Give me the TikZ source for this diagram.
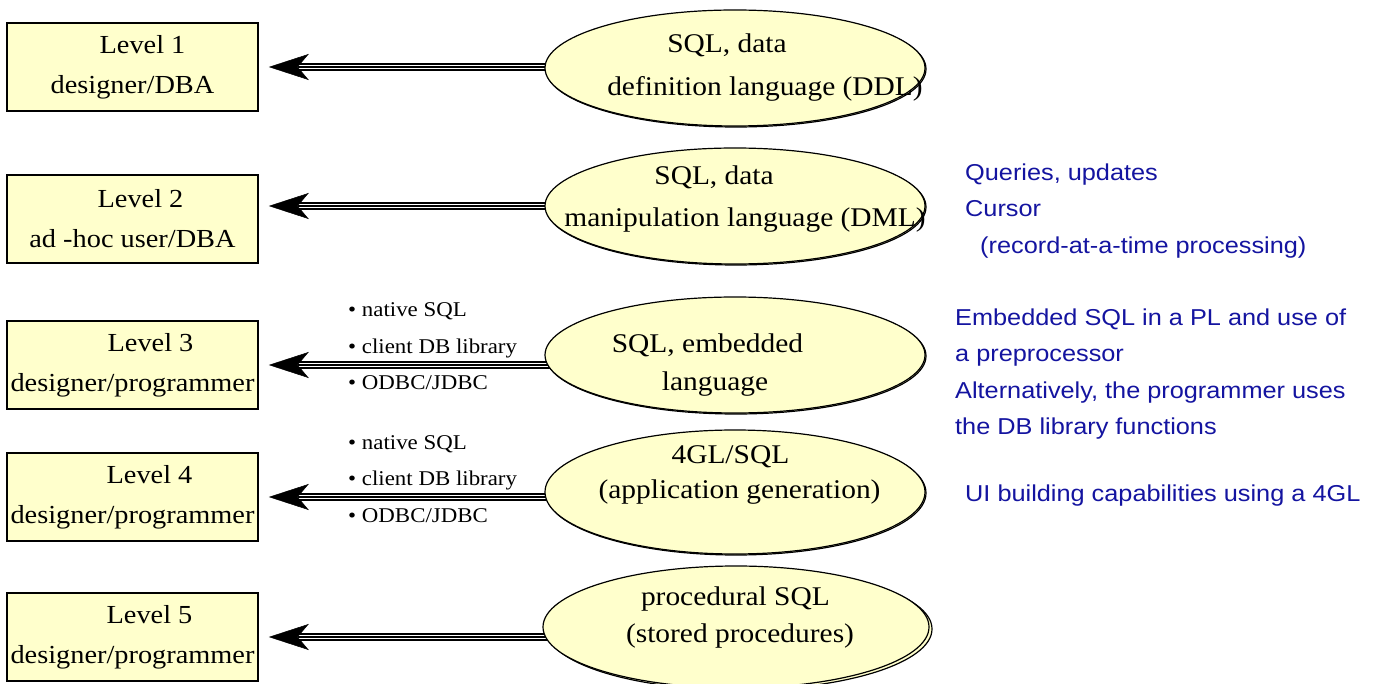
\documentclass[tikz,border=0pt]{standalone}
\usepackage{fontspec}
\setmainfont{Liberation Serif}[FakeStretch=1.09]
\newfontfamily\notefont{Liberation Sans}[FakeStretch=1.1]
\usepackage{xcolor}
\usetikzlibrary{shapes.geometric,arrows.meta,shadows,backgrounds}
\definecolor{paleyellow}{RGB}{255,255,204}
\definecolor{noteblue}{RGB}{20,20,160}
\tikzstyle{level} = [draw, line width=1.5pt, fill=paleyellow, minimum width=251pt, minimum height=88pt, inner sep=0pt, align=center, font=\fontsize{26}{40}\selectfont]
\tikzstyle{lang} = [draw, ellipse, line width=1.2pt, fill=paleyellow, minimum width=380pt, minimum height=116pt, inner sep=0pt, copy shadow={shadow xshift=1pt, shadow yshift=-1pt}]
\tikzstyle{deeplang} = [draw, ellipse, line width=1.2pt, fill=paleyellow, minimum width=386pt, minimum height=122pt, inner sep=0pt, copy shadow={shadow xshift=3pt, shadow yshift=-2pt}]
\tikzstyle{langtext} = [align=left, inner sep=0pt, font=\fontsize{27}{38}\selectfont]
\tikzstyle{bullets} = [align=left, anchor=west, inner sep=0pt, font=\fontsize{21}{36.5}\selectfont]
\tikzstyle{note} = [align=left, anchor=west, inner sep=0pt, text=noteblue, font=\notefont\fontsize{23}{36.5}\selectfont]
\tikzstyle{fatarrow} = [line width=1.6pt, -{Stealth[length=40pt, width=26pt, inset=11pt, line width=0.5pt]}, shorten >=10pt, shorten <=-6pt, preaction={draw, -, line width=8pt, shorten >=37pt}, preaction={draw, -, white, line width=4.8pt, shorten >=37pt}]

\begin{document}
\begin{tikzpicture}[x=1pt, y=-1pt]
    \useasboundingbox (0,0) rectangle (1381,684);

    % Levels
    \node[level] (lev1) at (132.5,67) {\hspace*{20pt}Level 1\\designer/DBA};
    \node[level] (lev2) at (132.5,219) {\hspace*{16pt}Level 2\\ad -hoc user/DBA};
    \node[level] (lev3) at (132.5,365) {\hspace*{36pt}Level 3\\designer/programmer};
    \node[level] (lev4) at (132.5,497) {\hspace*{34pt}Level 4\\designer/programmer};
    \node[level] (lev5) at (132.5,637) {\hspace*{34pt}Level 5\\designer/programmer};

    % Languages
    \node[lang] (sql1) at (735,68) {};
        \node[langtext] (txt1) at (765,68) {\hspace*{60pt}SQL, data\\[5pt]definition language (DDL)};
    \node[lang] (sql2) at (735,206) {};
        \node[langtext] (txt2) at (745,199) {\hspace*{90pt}SQL, data\\[4pt]manipulation language (DML)};
    \node[lang] (sql3) at (735,355) {};
        \node[langtext] (txt3) at (707.5,365) {SQL, embedded\\\hspace*{50pt}language};
    \node[lang, minimum height=124pt] (sql4) at (735,492) {};
        \node[langtext] (txt4) at (739.5,474.5) {\hspace*{73pt}4GL/SQL\\[-3pt](application generation)};
    \node[deeplang] (sql5) at (736,627) {};
        \node[langtext] (txt5) at (740,618) {\hspace*{15pt}procedural SQL\\[-1pt](stored procedures)};

    % Interfaces
    \node[bullets] (via3) at (348,346.5) {• native SQL\\• client DB library\\• ODBC/JDBC};
    \node[bullets] (via4) at (348,479) {• native SQL\\• client DB library\\• ODBC/JDBC};

    % Notes
    \node[note] (note2) at (965,211) {Queries, updates\\Cursor\\\hspace*{15pt}(record-at-a-time processing)};
    \node[note] (note3) at (955,374) {Embedded SQL in a PL and use of\\a preprocessor\\Alternatively, the programmer uses\\the DB library functions};
    \node[note] (note4) at (965,496) {UI building capabilities using a 4GL};

    % Draw Arrows
    \begin{pgfonlayer}{background}
        \draw[fatarrow] (sql1.west |- lev1.east) -- (lev1.east);
        \draw[fatarrow] (sql2.west) -- (sql2.west -| lev2.east);
        \draw[fatarrow] (sql3.west |- lev3.east) -- (lev3.east);
        \draw[fatarrow] (sql4.west |- lev4.east) -- (lev4.east);
        \draw[fatarrow] (sql5.west |- lev5.east) -- (lev5.east);
    \end{pgfonlayer}
\end{tikzpicture}
\end{document}
